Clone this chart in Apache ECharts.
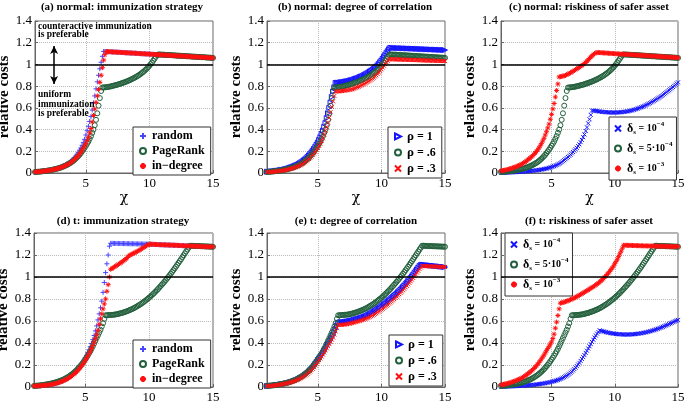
<!DOCTYPE html>
<html><head><meta charset="utf-8">
<script src="https://cdn.jsdelivr.net/npm/echarts@6/dist/echarts.min.js"></script>
<style>html,body{margin:0;padding:0;background:#fff}#c{width:685px;height:402px}</style>
</head><body><div id="c"></div>
<script>
// ---------------- data (step 0.1 in chi) ----------------
const CHI = [1,1.1,1.2,1.3,1.4,1.5,1.6,1.7,1.8,1.9,
 2,2.1,2.2,2.3,2.4,2.5,2.6,2.7,2.8,2.9,
 3,3.1,3.2,3.3,3.4,3.5,3.6,3.7,3.8,3.9,
 4,4.1,4.2,4.3,4.4,4.5,4.6,4.7,4.8,4.9,
 5,5.1,5.2,5.3,5.4,5.5,5.6,5.7,5.8,5.9,
 6,6.1,6.2,6.3,6.4,6.5,6.6,6.7,6.8,6.9,
 7,7.1,7.2,7.3,7.4,7.5,7.6,7.7,7.8,7.9,
 8,8.1,8.2,8.3,8.4,8.5,8.6,8.7,8.8,8.9,
 9,9.1,9.2,9.3,9.4,9.5,9.6,9.7,9.8,9.9,
 10,10.1,10.2,10.3,10.4,10.5,10.6,10.7,10.8,10.9,
 11,11.1,11.2,11.3,11.4,11.5,11.6,11.7,11.8,11.9,
 12,12.1,12.2,12.3,12.4,12.5,12.6,12.7,12.8,12.9,
 13,13.1,13.2,13.3,13.4,13.5,13.6,13.7,13.8,13.9,
 14,14.1,14.2,14.3,14.4,14.5,14.6,14.7,14.8,14.9,
 15];
const X_TICKS = [5, 10, 15];
const PANEL_TITLES = ['(a) normal: immunization strategy','(b) normal: degree of correlation','(c) normal: riskiness of safer asset','(d) t: immunization strategy','(e) t: degree of correlation','(f) t: riskiness of safer asset'];
const STRATEGY_NAMES = ['random','PageRank','in\u2212degree'];
const RHO_NAMES = ['\u03c1 = 1','\u03c1 = .6','\u03c1 = .3'];
const DELTA_NAMES = ['\u03b4s = 10^-4','\u03b4s = 5\u00b710^-4','\u03b4s = 10^-3'];
const DELTA_LABELS = ['{g|\u03b4}{sub|s}{t| = 10}{sup|\u22124}','{g|\u03b4}{sub|s}{t| = 5\u00b710}{sup|\u22124}','{g|\u03b4}{sub|s}{t| = 10}{sup|\u22123}'];
const RHO_LABELS = ['{g|\u03c1}{t| = 1}','{g|\u03c1}{t| = .6}','{g|\u03c1}{t| = .3}'];

// ---- normal distribution ----
// baseline curve (PageRank = rho .6 = delta 5e-4)
const GREEN_NORMAL = [.009,.010,.011,.012,.013,.014,.016,.017,.019,.020,
 .022,.024,.026,.028,.031,.033,.036,.039,.042,.045,
 .049,.053,.058,.063,.068,.074,.080,.087,.094,.102,
 .111,.121,.131,.143,.155,.168,.183,.199,.215,.232,
 .25,.27,.29,.315,.34,.37,.40,.44,.49,.55,
 .62,.69,.755,.787,.788,.789,.79,.792,.794,.796,
 .799,.802,.805,.808,.811,.814,.818,.822,.826,.830,
 .834,.838,.843,.848,.853,.858,.864,.870,.876,.882,
 .889,.896,.904,.912,.921,.930,.94,.951,.962,.975,
 .988,1.003,1.018,1.035,1.052,1.07,1.087,1.092,1.091,1.091,
 1.090,1.090,1.089,1.088,1.087,1.087,1.086,1.085,1.084,1.084,
 1.083,1.082,1.081,1.081,1.080,1.079,1.078,1.078,1.077,1.076,
 1.075,1.075,1.074,1.073,1.072,1.072,1.071,1.070,1.069,1.069,
 1.068,1.067,1.066,1.066,1.065,1.064,1.063,1.063,1.062,1.061,
 1.060];
// common upper branch of random / in-degree in (a), chi 6.4 .. 15
const LINE_A = [1.120,1.119,1.119,1.118,1.117,1.117,
 1.116,1.115,1.114,1.114,1.113,1.112,1.112,1.111,1.110,1.110,
 1.109,1.108,1.107,1.107,1.106,1.105,1.105,1.104,1.103,1.103,
 1.102,1.101,1.100,1.100,1.099,1.098,1.098,1.097,1.096,1.096,
 1.095,1.094,1.093,1.093,1.092,1.091,1.091,1.090,1.089,1.089,
 1.088,1.087,1.086,1.086,1.085,1.084,1.084,1.083,1.082,1.082,
 1.081,1.080,1.079,1.079,1.078,1.077,1.077,1.076,1.075,1.075,
 1.074,1.073,1.072,1.072,1.071,1.070,1.070,1.069,1.068,1.068,
 1.067,1.066,1.065,1.065,1.064,1.063,1.063,1.062,1.061,1.061,
 1.060];
// random, chi 1 .. 6.3
const RANDOM_A_RISE = [.010,.011,.012,.013,.014,.015,.017,.018,.020,.022,
 .024,.026,.028,.030,.033,.036,.039,.042,.046,.050,
 .054,.059,.064,.070,.076,.083,.090,.098,.107,.117,
 .128,.141,.155,.172,.19,.21,.23,.255,.28,.31,
 .35,.39,.43,.475,.52,.58,.645,.71,.775,.84,
 .90,.96,1.02,1.075];
// in-degree, chi 1 .. 6.5
const INDEG_A_RISE = [.010,.011,.011,.012,.013,.015,.016,.018,.019,.021,
 .022,.024,.026,.028,.031,.033,.036,.039,.042,.045,
 .049,.053,.058,.063,.068,.074,.080,.087,.095,.104,
 .113,.124,.135,.147,.16,.175,.19,.21,.23,.25,
 .27,.30,.33,.37,.41,.47,.53,.59,.65,.71,
 .77,.835,.90,.97,1.04,1.09];
const RANDOM_A = RANDOM_A_RISE.concat(LINE_A);
const INDEG_A = INDEG_A_RISE.concat(LINE_A.slice(2));

const RHO1_B = [.012,.013,.014,.015,.016,.017,.019,.020,.022,.024,
 .026,.028,.030,.032,.035,.038,.041,.045,.049,.053,
 .058,.062,.067,.072,.078,.084,.091,.099,.107,.116,
 .125,.136,.148,.161,.175,.19,.205,.222,.24,.26,
 .28,.305,.33,.36,.39,.425,.46,.505,.55,.60,
 .65,.70,.75,.79,.83,.831,.833,.834,.836,.838,
 .840,.842,.844,.846,.849,.852,.855,.858,.862,.866,
 .870,.874,.879,.884,.889,.894,.90,.906,.913,.920,
 .927,.935,.943,.951,.96,.97,.98,.992,1.005,1.02,
 1.035,1.052,1.07,1.087,1.105,1.122,1.14,1.153,1.153,1.152,
 1.152,1.151,1.151,1.150,1.150,1.150,1.149,1.149,1.148,1.148,
 1.147,1.147,1.146,1.146,1.145,1.145,1.144,1.144,1.143,1.143,
 1.142,1.142,1.141,1.141,1.140,1.140,1.139,1.139,1.138,1.138,
 1.137,1.137,1.136,1.136,1.135,1.135,1.134,1.134,1.133,1.133,
 1.132];
const RHO3_B = [.008,.0085,.009,.010,.011,.012,.013,.014,.016,.017,
 .019,.020,.022,.024,.026,.028,.031,.034,.037,.040,
 .043,.047,.051,.055,.060,.065,.070,.076,.083,.091,
 .10,.109,.118,.129,.14,.152,.165,.18,.195,.212,
 .23,.25,.27,.295,.32,.355,.39,.425,.465,.51,
 .56,.61,.66,.71,.75,.751,.752,.753,.754,.755,
 .757,.758,.760,.762,.764,.766,.769,.772,.775,.780,
 .785,.790,.795,.80,.806,.812,.818,.824,.831,.838,
 .845,.852,.86,.869,.878,.889,.90,.912,.925,.94,
 .955,.971,.988,1.004,1.02,1.033,1.045,1.048,1.048,1.047,
 1.047,1.046,1.046,1.045,1.045,1.045,1.044,1.044,1.043,1.043,
 1.043,1.042,1.042,1.041,1.041,1.041,1.040,1.040,1.040,1.039,
 1.039,1.038,1.038,1.037,1.037,1.036,1.036,1.036,1.035,1.035,
 1.035,1.034,1.034,1.033,1.033,1.033,1.032,1.032,1.032,1.031,
 1.031];
const DELTA1_C = [.002,.0025,.003,.0035,.004,.0045,.005,.0055,.006,.0065,
 .007,.0075,.008,.009,.010,.0105,.011,.012,.013,.014,
 .015,.016,.017,.018,.019,.0205,.022,.0235,.025,.0265,
 .028,.030,.032,.034,.036,.0385,.041,.044,.047,.051,
 .055,.059,.063,.068,.073,.079,.085,.092,.10,.109,
 .118,.127,.137,.147,.158,.169,.181,.193,.206,.219,
 .232,.248,.264,.284,.305,.33,.355,.387,.42,.457,
 .495,.535,.575,.575,.573,.572,.570,.568,.567,.565,
 .563,.562,.561,.560,.559,.558,.558,.557,.557,.557,
 .557,.557,.558,.558,.559,.560,.561,.563,.564,.566,
 .568,.570,.573,.575,.578,.582,.585,.589,.593,.597,
 .602,.606,.611,.616,.621,.627,.633,.639,.645,.652,
 .659,.665,.672,.679,.687,.694,.702,.709,.717,.726,
 .735,.744,.753,.762,.772,.782,.792,.803,.813,.824,
 .835];
const DELTA10_C = [.020,.022,.024,.026,.029,.032,.035,.038,.042,.046,
 .050,.054,.059,.064,.069,.074,.080,.086,.093,.101,
 .110,.119,.128,.138,.148,.159,.171,.184,.198,.213,
 .23,.25,.27,.295,.32,.35,.38,.415,.45,.495,
 .54,.59,.64,.70,.76,.82,.885,.887,.89,.892,
 .895,.90,.905,.911,.917,.923,.93,.937,.945,.952,
 .96,.967,.975,.982,.99,.999,1.008,1.019,1.03,1.042,
 1.055,1.067,1.08,1.09,1.10,1.106,1.11,1.109,1.109,1.108,
 1.107,1.106,1.105,1.105,1.104,1.103,1.102,1.101,1.101,1.100,
 1.099,1.098,1.098,1.097,1.096,1.095,1.095,1.094,1.093,1.093,
 1.092,1.091,1.090,1.090,1.089,1.088,1.087,1.087,1.086,1.085,
 1.084,1.084,1.083,1.082,1.081,1.081,1.080,1.079,1.078,1.078,
 1.077,1.076,1.075,1.075,1.074,1.073,1.072,1.072,1.071,1.070,
 1.069,1.069,1.068,1.067,1.066,1.066,1.065,1.064,1.063,1.063,
 1.062];

// ---- t distribution ----
const GREEN_T = [.010,.011,.012,.013,.014,.015,.017,.018,.020,.022,
 .024,.026,.028,.030,.033,.036,.039,.042,.046,.050,
 .054,.058,.063,.068,.074,.080,.087,.094,.102,.110,
 .119,.129,.139,.15,.162,.175,.188,.202,.217,.233,
 .25,.267,.285,.305,.325,.347,.37,.395,.42,.445,
 .47,.495,.52,.55,.58,.62,.652,.652,.653,.654,
 .655,.656,.657,.658,.66,.662,.665,.668,.671,.674,
 .678,.682,.686,.69,.695,.70,.705,.71,.716,.722,
 .729,.736,.743,.75,.758,.766,.775,.784,.793,.802,
 .812,.822,.833,.844,.855,.867,.879,.891,.904,.917,
 .93,.943,.957,.971,.985,1.0,1.015,1.03,1.046,1.062,
 1.078,1.094,1.111,1.128,1.145,1.162,1.18,1.197,1.215,1.232,
 1.25,1.267,1.284,1.284,1.283,1.283,1.282,1.282,1.281,1.281,
 1.28,1.28,1.279,1.279,1.278,1.278,1.277,1.277,1.276,1.276,
 1.275];
// common upper branch in (d), chi 10 .. 15
const LINE_D = [1.298,1.298,1.297,1.297,1.296,1.296,1.295,1.295,1.294,1.294,
 1.293,1.293,1.292,1.292,1.291,1.291,1.290,1.290,1.289,1.289,
 1.288,1.288,1.287,1.287,1.286,1.286,1.285,1.285,1.284,1.284,
 1.283,1.283,1.282,1.282,1.281,1.281,1.280,1.280,1.279,1.279,
 1.278,1.278,1.277,1.277,1.276,1.276,1.276,1.275,1.275,1.275,
 1.275];
const RANDOM_D_HEAD = [.009,.0095,.010,.0105,.011,.012,.013,.014,.015,.016,
 .018,.019,.021,.023,.025,.027,.030,.033,.036,.040,
 .044,.048,.053,.058,.064,.070,.077,.084,.092,.100,
 .11,.12,.131,.143,.156,.17,.186,.203,.222,.243,
 .265,.288,.312,.338,.366,.396,.43,.468,.51,.555,
 .61,.665,.72,.78,.86,.95,1.04,1.12,1.20,1.28,
 1.306,1.306,1.306,1.305,1.305,1.305,1.305,1.304,1.304,1.304,
 1.304,1.303,1.303,1.303,1.303,1.302,1.302,1.302,1.302,1.301,
 1.301,1.301,1.301,1.300,1.300,1.300,1.300,1.299,1.299,1.299];
const INDEG_D_HEAD = [.009,.0095,.010,.0105,.011,.012,.013,.014,.015,.016,
 .017,.018,.020,.022,.024,.026,.029,.032,.035,.039,
 .043,.047,.052,.057,.062,.068,.074,.081,.088,.096,
 .105,.114,.124,.135,.147,.16,.174,.189,.205,.222,
 .24,.26,.28,.302,.325,.35,.378,.408,.44,.475,
 .515,.57,.62,.665,.71,.755,.80,.87,.93,1.0,
 1.07,1.077,1.085,1.092,1.10,1.107,1.115,1.122,1.13,1.139,
 1.148,1.156,1.165,1.177,1.19,1.198,1.205,1.21,1.215,1.222,
 1.228,1.234,1.24,1.248,1.255,1.262,1.27,1.277,1.285,1.292];
const RANDOM_D = RANDOM_D_HEAD.concat(LINE_D);
const INDEG_D = INDEG_D_HEAD.concat(LINE_D);

const RHO1_E = [.009,.010,.011,.012,.013,.014,.016,.017,.019,.020,
 .022,.024,.026,.028,.031,.033,.036,.039,.042,.046,
 .050,.054,.059,.064,.069,.075,.081,.088,.095,.103,
 .111,.120,.13,.141,.152,.164,.177,.193,.21,.227,
 .245,.26,.275,.292,.31,.33,.35,.37,.39,.41,
 .43,.452,.475,.502,.53,.557,.585,.588,.59,.591,
 .592,.593,.595,.597,.599,.601,.604,.607,.61,.613,
 .617,.62,.623,.626,.63,.634,.638,.643,.648,.654,
 .66,.666,.673,.68,.687,.694,.702,.71,.718,.726,
 .735,.743,.752,.761,.77,.779,.789,.799,.809,.819,
 .83,.84,.85,.861,.873,.885,.897,.909,.922,.935,
 .948,.962,.976,.99,1.005,1.02,1.036,1.052,1.068,1.084,
 1.10,1.108,1.113,1.112,1.111,1.109,1.108,1.107,1.106,1.104,
 1.103,1.102,1.101,1.099,1.098,1.097,1.096,1.094,1.093,1.092,
 1.09];
const RHO3_E = [.008,.009,.010,.011,.012,.013,.015,.016,.018,.019,
 .021,.023,.025,.027,.030,.032,.035,.038,.041,.045,
 .048,.052,.056,.061,.066,.071,.077,.083,.09,.097,
 .105,.113,.122,.132,.142,.154,.166,.18,.196,.213,
 .23,.245,.26,.277,.295,.314,.333,.352,.372,.391,
 .41,.43,.45,.477,.505,.535,.565,.565,.565,.565,
 .567,.568,.57,.572,.574,.576,.579,.582,.585,.588,
 .592,.595,.598,.601,.605,.609,.613,.617,.622,.627,
 .632,.638,.644,.65,.657,.664,.671,.679,.687,.695,
 .704,.712,.721,.73,.739,.748,.758,.768,.778,.788,
 .799,.81,.821,.832,.844,.856,.868,.88,.893,.906,
 .919,.933,.947,.961,.976,.991,1.007,1.023,1.04,1.056,
 1.073,1.087,1.10,1.10,1.099,1.099,1.098,1.098,1.097,1.097,
 1.096,1.096,1.095,1.095,1.094,1.094,1.093,1.093,1.092,1.092,
 1.091];
const DELTA1_F = [.002,.0025,.003,.0035,.004,.0045,.005,.0055,.006,.0065,
 .007,.0075,.008,.0085,.009,.010,.011,.0115,.012,.013,
 .014,.015,.016,.017,.018,.019,.020,.0215,.023,.0245,
 .026,.0275,.029,.031,.033,.035,.037,.0395,.042,.0445,
 .047,.050,.053,.0565,.060,.064,.068,.073,.078,.084,
 .09,.097,.104,.112,.12,.13,.14,.151,.163,.176,
 .19,.205,.22,.237,.255,.272,.29,.31,.33,.35,
 .37,.39,.41,.43,.45,.468,.485,.50,.515,.511,
 .508,.505,.502,.499,.496,.493,.491,.489,.487,.485,
 .484,.482,.481,.480,.479,.478,.478,.477,.477,.477,
 .477,.477,.478,.478,.479,.479,.481,.482,.484,.485,
 .487,.489,.491,.493,.496,.498,.501,.504,.507,.510,
 .514,.517,.521,.525,.529,.533,.538,.542,.547,.552,
 .557,.562,.567,.572,.578,.583,.589,.594,.60,.605,
 .61];
const DELTA10_F = [.020,.022,.024,.026,.029,.032,.035,.038,.042,.046,
 .050,.054,.059,.064,.069,.074,.080,.086,.093,.101,
 .110,.118,.127,.136,.146,.157,.168,.18,.193,.207,
 .222,.238,.255,.272,.29,.31,.33,.35,.37,.39,
 .41,.44,.48,.535,.59,.65,.71,.762,.765,.768,
 .772,.776,.78,.784,.789,.794,.799,.804,.81,.816,
 .822,.828,.835,.841,.848,.855,.862,.869,.876,.883,
 .89,.897,.905,.912,.92,.928,.936,.945,.954,.964,
 .974,.986,.998,1.011,1.024,1.038,1.052,1.067,1.083,1.10,
 1.12,1.14,1.162,1.185,1.21,1.235,1.262,1.288,1.288,1.288,
 1.288,1.287,1.287,1.287,1.286,1.286,1.286,1.285,1.285,1.285,
 1.284,1.284,1.284,1.283,1.283,1.283,1.282,1.282,1.282,1.281,
 1.281,1.281,1.281,1.280,1.280,1.280,1.280,1.279,1.279,1.279,
 1.279,1.278,1.278,1.278,1.278,1.277,1.277,1.277,1.277,1.277,
 1.277];

// ---------------- styles ----------------
const SERIF = '"Liberation Serif","Times New Roman",serif';
const BLUE = '#1414ff', LIGHTBLUE = '#4646ff', GREEN = '#22603c', RED = '#ff1010';
const SYM = {
  plus: 'path://M5,0L5,10M0,5L10,5',
  cross: 'path://M0,0L10,10M10,0L0,10',
  star: 'path://M5,0L5,10M0,5L10,5M1.6,1.6L8.4,8.4M8.4,1.6L1.6,8.4',
  tri: 'path://M0,0L10,5L0,10Z',
  circle: 'circle'
};
const GRIDS = [
  {left:35, top:21, width:178, height:152},
  {left:267, top:21, width:178, height:152},
  {left:501, top:21, width:177, height:152},
  {left:34, top:233, width:179, height:154},
  {left:267, top:233, width:178, height:154},
  {left:501, top:233, width:177, height:154}
];
const PANELS = [
  {series:[[STRATEGY_NAMES[0],RANDOM_A,'plus',LIGHTBLUE,5],[STRATEGY_NAMES[1],GREEN_NORMAL,'circle',GREEN,5],[STRATEGY_NAMES[2],INDEG_A,'star',RED,5]],
   legend:{left:133, top:127, kind:'plain'}},
  {series:[[RHO_NAMES[0],RHO1_B,'tri',BLUE,5],[RHO_NAMES[1],GREEN_NORMAL,'circle',GREEN,5],[RHO_NAMES[2],RHO3_B,'cross',RED,4]],
   legend:{left:388, top:127, kind:'rho'}},
  {series:[[DELTA_NAMES[0],DELTA1_C,'cross',BLUE,4],[DELTA_NAMES[1],GREEN_NORMAL,'circle',GREEN,5],[DELTA_NAMES[2],DELTA10_C,'star',RED,5]],
   legend:{left:609, top:117, kind:'delta'}},
  {series:[[STRATEGY_NAMES[0],RANDOM_D,'plus',LIGHTBLUE,5],[STRATEGY_NAMES[1],GREEN_T,'circle',GREEN,5],[STRATEGY_NAMES[2],INDEG_D,'star',RED,5]],
   legend:{left:133, top:340, kind:'plain'}},
  {series:[[RHO_NAMES[0],RHO1_E,'tri',BLUE,5],[RHO_NAMES[1],GREEN_T,'circle',GREEN,5],[RHO_NAMES[2],RHO3_E,'cross',RED,4]],
   legend:{left:389, top:335, kind:'rho'}},
  {series:[[DELTA_NAMES[0],DELTA1_F,'cross',BLUE,4],[DELTA_NAMES[1],GREEN_T,'circle',GREEN,5],[DELTA_NAMES[2],DELTA10_F,'star',RED,5]],
   legend:{left:505, top:233, kind:'delta'}}
];
const TITLE_POS = [[122,7],[355,7],[589,7],[123,221],[356,221],[589,221]];

const chart = echarts.init(document.getElementById('c'), null, {renderer:'canvas'});
const option = {animation:false, backgroundColor:'#fff', grid:[], xAxis:[], yAxis:[], series:[], legend:[], graphic:[]};

PANELS.forEach((p, gi) => {
  option.grid.push(Object.assign({show:true, borderColor:'#666', borderWidth:1, backgroundColor:'#fff', outerBoundsMode:'none', containLabel:false}, GRIDS[gi]));
  option.xAxis.push({type:'value', gridIndex:gi, min:1, max:15,
    name:'\u03c7', nameLocation:'middle', nameGap:13,
    nameTextStyle:{fontFamily:'"DejaVu Serif",serif', fontSize:14, color:'#000'},
    axisLine:{show:true, onZero:false, lineStyle:{color:'#666'}},
    axisTick:{show:true, inside:true, length:3, customValues:X_TICKS, lineStyle:{color:'#666'}},
    axisLabel:{customValues:X_TICKS, fontFamily:SERIF, fontSize:13, color:'#000', margin:4},
    splitLine:{show:true, lineStyle:{type:'dotted', color:'#bbb'}}
  });
  option.yAxis.push({type:'value', gridIndex:gi, min:0, max:1.4, interval:0.2,
    name:'relative costs', nameLocation:'middle', nameGap:20, nameRotate:90,
    nameTextStyle:{fontFamily:SERIF, fontSize:15, fontWeight:'bold', color:'#000'},
    axisLine:{show:true, lineStyle:{color:'#666'}},
    axisTick:{show:true, inside:true, length:3, lineStyle:{color:'#666'}},
    axisLabel:{fontFamily:SERIF, fontSize:13, color:'#000', margin:3},
    splitLine:{show:true, lineStyle:{type:'dotted', color:'#bbb'}}
  });
  p.series.forEach((s, si) => {
    const [name, ys, sym, col, size] = s;
    const ser = {type:'scatter', name, xAxisIndex:gi, yAxisIndex:gi,
      data: CHI.map((x, i) => [x, ys[i]]),
      symbol: SYM[sym], symbolSize: size,
      itemStyle:{color:'rgba(0,0,0,0)', borderColor:col, borderWidth:1, opacity:1},
      emphasis:{disabled:true}, silent:true, z: 2 + si};
    if (si === 0) {
      ser.markLine = {silent:true, symbol:'none', label:{show:false}, animation:false,
        lineStyle:{color:'#000', width:1.5, type:'solid'}, data:[{yAxis:1}]};
    }
    if (gi === 0 && si === 1) {
      ser.markLine = {silent:true, symbol:['arrow','arrow'], symbolSize:[6,8], label:{show:false}, animation:false,
        lineStyle:{color:'#000', width:1.5, type:'solid'},
        data:[[{coord:[2.5,1.17]},{coord:[2.5,0.82]}]]};
    }
    option.series.push(ser);
  });
  const lg = p.legend;
  const leg = {left:lg.left, top:lg.top, orient:'vertical', backgroundColor:'#fff',
    borderColor:'#333', borderWidth:1, borderRadius:0, padding:[3,6,3,6], itemGap:3,
    itemWidth:8, itemHeight:6, selectedMode:false,
    data: p.series.map(s => s[0]),
    textStyle:{fontFamily:SERIF, fontSize:12, fontWeight:'bold', color:'#000'}};
  if (lg.kind === 'rho') {
    leg.formatter = n => RHO_LABELS[RHO_NAMES.indexOf(n)];
    leg.textStyle.rich = {
      g:{fontFamily:SERIF, fontSize:13, color:'#000', lineHeight:14},
      t:{fontFamily:SERIF, fontSize:12, fontWeight:'bold', color:'#000', lineHeight:14}
    };
  } else if (lg.kind === 'delta') {
    leg.itemGap = 5;
    leg.padding = [4,4,4,5];
    leg.formatter = n => DELTA_LABELS[DELTA_NAMES.indexOf(n)];
    leg.textStyle.rich = {
      g:{fontFamily:SERIF, fontSize:12, color:'#000', lineHeight:15},
      t:{fontFamily:SERIF, fontSize:10, fontWeight:'bold', color:'#000', lineHeight:15},
      sub:{fontFamily:SERIF, fontSize:7, fontWeight:'bold', color:'#000', verticalAlign:'bottom'},
      sup:{fontFamily:SERIF, fontSize:7, fontWeight:'bold', color:'#000', verticalAlign:'top'}
    };
  }
  option.legend.push(leg);
  option.graphic.push({type:'text', x:TITLE_POS[gi][0], y:TITLE_POS[gi][1], silent:true,
    style:{text:PANEL_TITLES[gi], fontFamily:SERIF, fontSize:11, fontWeight:'bold', fill:'#000',
      textAlign:'center', textVerticalAlign:'middle', align:'center', verticalAlign:'middle'}});
});

// annotations in panel (a)
option.graphic.push({type:'text', x:38, y:22, silent:true, z:50,
  style:{text:'counteractive immunization\nis preferable', fontFamily:SERIF, fontSize:9.5, fontWeight:'bold', fill:'#000', lineHeight:8.5}});
option.graphic.push({type:'text', x:38, y:90, silent:true, z:50,
  style:{text:'uniform\nimmunization\nis preferable', fontFamily:SERIF, fontSize:9.5, fontWeight:'bold', fill:'#000', lineHeight:9.5}});

chart.setOption(option);
</script>
</body></html>
